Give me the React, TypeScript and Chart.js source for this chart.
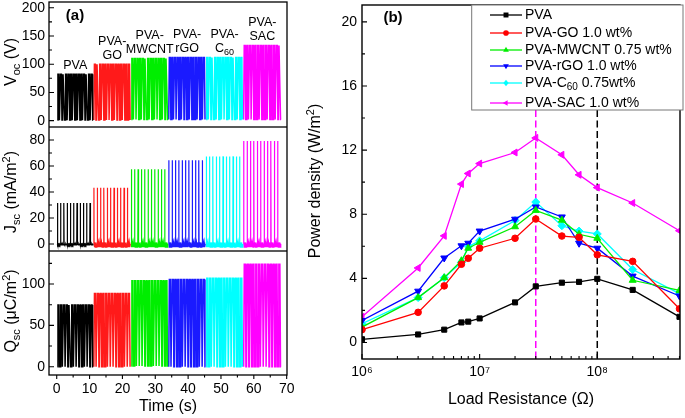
import React, { useEffect, useRef } from 'react';
import { Chart, registerables } from 'chart.js';

Chart.register(...registerables);
Chart.defaults.font.family = 'Arial, "Liberation Sans", Helvetica, sans-serif';
Chart.defaults.color = '#000';

// ---------------- Panel (a) data ----------------
const sampleLabelLines = [['PVA'], ['PVA-', 'GO'], ['PVA-', 'MWCNT'], ['PVA-', 'rGO'], ['PVA-', 'C60'], ['PVA-', 'SAC']];
const sampleColors = ['#000000', '#ff1a1a', '#00ee00', '#1a1aff', '#00ffff', '#ff00ff'];
const segmentStart = [0.2, 11.3, 22.7, 34.1, 45.5, 56.9];
const segmentEnd = [11.1, 22.5, 33.9, 45.3, 56.7, 68.3];

const vocPeaks = [82, 100, 110, 112, 112, 133];
const vocLows = [1, 1, 2, 2, 2, 2];
const vocCycles = [14, 14, 14, 14, 14, 14];

const jscPeaks = [31.5, 43.3, 57.4, 64.4, 67.4, 79.2];
const jscDips = [-0.8, -2.5, -2.5, -2.5, -2.5, -2.5];
const jscBumps = [0, 1.2, 1.2, 1.2, 1.2, 1.2];
const jscCycles = [11, 11, 11, 11, 11, 11];

const qscPeaks = [74.5, 88.5, 104, 105.5, 107, 124];
const qscLows = [0, 0, 1, 0, 0, 0];
const qscCycles = [13, 13, 13, 13, 13, 13];

const timeTicks = [0, 10, 20, 30, 40, 50, 60, 70];
const timeMinorTicks = [5, 15, 25, 35, 45, 55, 65];
const vocTicks = [0, 50, 100, 150, 200];
const vocMinorTicks = [25, 75, 125, 175];
const jscTicks = [0, 20, 40, 60, 80];
const jscMinorTicks = [10, 30, 50, 70];
const qscTicks = [0, 50, 100];
const qscMinorTicks = [25, 75, 125];

// pulse templates (phase within a cycle, level key)
const pulsePhase = [0, 0.22, 0.58, 0.8];
const pulseLevel = ['low', 'peak', 'peak', 'low'];
const spikePhase = [0, 0.03, 0.06, 0.14, 0.3, 0.45, 0.6, 0.75, 0.9];
const spikeLevel = ['zero', 'peak', 'zero', 'dip', 'bump', 'dip', 'bump', 'dip', 'zero'];

// ---------------- Panel (b) data ----------------
const resistance = [1e6, 3e6, 5e6, 7e6, 8e6, 1e7, 2e7, 3e7, 5e7, 7e7, 1e8, 2e8, 5e8];
const powerPVA = [0.2, 0.5, 0.8, 1.25, 1.3, 1.5, 2.5, 3.5, 3.73, 3.78, 3.97, 3.28, 1.6];
const powerGO = [0.8, 1.88, 3.53, 4.88, 5.25, 5.88, 6.5, 7.7, 6.64, 6.56, 5.47, 5.06, 2.1];
const powerMWCNT = [0.96, 2.8, 4.04, 5.1, 5.88, 6.25, 7.22, 8.24, 7.63, 6.75, 6.5, 3.88, 3.25];
const powerRGO = [1.37, 3.2, 5.27, 6.03, 6.19, 6.95, 7.69, 8.45, 7.83, 6.19, 5.88, 4.14, 2.9];
const powerC60 = [1.17, 2.8, 4.04, 5.0, 5.99, 6.34, 7.61, 8.76, 7.28, 6.95, 6.77, 4.55, 3.05];
const powerSAC = [1.6, 4.65, 6.65, 9.88, 10.54, 11.16, 11.85, 12.76, 11.71, 10.46, 9.66, 8.7, 6.97];
const powerSeries = [powerPVA, powerGO, powerMWCNT, powerRGO, powerC60, powerSAC];
const legendLabels = ['PVA', 'PVA-GO 1.0 wt%', 'PVA-MWCNT 0.75 wt%', 'PVA-rGO 1.0 wt%', 'PVA-C60 0.75wt%', 'PVA-SAC 1.0 wt%'];
const seriesColors = ['#000000', '#ff0000', '#00ee00', '#0000ff', '#00ffff', '#ff00ff'];
const seriesMarkers = ['rect', 'circle', 'triangle', 'triangle', 'rectRot', 'triangle'];
const seriesMarkerRotation = [0, 0, 0, 180, 0, 270];
const optimumResistance = [3e7, 1e8];
const optimumColors = ['#ff00ff', '#000000'];

const powerTicks = [0, 4, 8, 12, 16, 20];
const powerMinorTicks = [2, 6, 10, 14, 18];
const resistanceTicks = [1e6, 1e7, 1e8];
const resistanceTickLabels = ['10⁶', '10⁷', '10⁸'];
const resistanceMinorTicks = [2e6, 3e6, 4e6, 5e6, 6e6, 7e6, 8e6, 9e6, 2e7, 3e7, 4e7, 5e7, 6e7, 7e7, 8e7, 9e7, 2e8, 3e8, 4e8, 5e8];

// ---------------- helpers ----------------
type Run = { t: string; sub?: boolean; sup?: boolean };
const FONT = 'Arial, "Liberation Sans", sans-serif';

function drawRuns(ctx: CanvasRenderingContext2D, runs: Run[], x: number, y: number, size: number,
  opts: { rotate?: boolean; align?: 'center' | 'left'; bold?: boolean } = {}) {
  ctx.save();
  ctx.translate(x, y);
  if (opts.rotate) ctx.rotate(-Math.PI / 2);
  const w = opts.bold ? 'bold ' : '';
  const main = `${w}${size}px ${FONT}`;
  const small = `${w}${Math.round(size * 0.68)}px ${FONT}`;
  let total = 0;
  for (const r of runs) { ctx.font = r.sub || r.sup ? small : main; total += ctx.measureText(r.t).width; }
  let cx = opts.align === 'left' ? 0 : -total / 2;
  ctx.textBaseline = 'middle';
  ctx.textAlign = 'left';
  ctx.fillStyle = '#000';
  for (const r of runs) {
    ctx.font = r.sub || r.sup ? small : main;
    const dy = r.sub ? size * 0.32 : r.sup ? -size * 0.32 : 0;
    ctx.fillText(r.t, cx, dy);
    cx += ctx.measureText(r.t).width;
  }
  ctx.restore();
}

function toRuns(s: string): Run[] {
  const i = s.indexOf('C60');
  if (i < 0) return [{ t: s }];
  return [{ t: s.slice(0, i + 1) }, { t: '60', sub: true }, { t: s.slice(i + 3) }];
}

function tickMarks(chart: any, axis: 'x' | 'y', values: number[], len: number, inward: boolean) {
  const { ctx, chartArea: a } = chart;
  const s = chart.scales[axis];
  ctx.save();
  ctx.strokeStyle = '#000';
  ctx.lineWidth = 1.1;
  ctx.beginPath();
  for (const v of values) {
    const p = s.getPixelForValue(v);
    if (axis === 'x') {
      if (p < a.left - 0.5 || p > a.right + 0.5) continue;
      ctx.moveTo(p, a.bottom);
      ctx.lineTo(p, inward ? a.bottom - len : a.bottom + len);
    } else {
      if (p < a.top - 0.5 || p > a.bottom + 0.5) continue;
      ctx.moveTo(a.left, p);
      ctx.lineTo(inward ? a.left + len : a.left - len, p);
    }
  }
  ctx.stroke();
  ctx.restore();
}

function frame(chart: any, lw: number) {
  const { ctx, chartArea: a } = chart;
  ctx.save();
  ctx.strokeStyle = '#000';
  ctx.lineWidth = lw;
  ctx.strokeRect(a.left, a.top, a.right - a.left, a.bottom - a.top);
  ctx.restore();
}

function buildTrace(i: number, cycles: number[], phase: number[], level: string[], values: Record<string, number>) {
  const pts: { x: number; y: number }[] = [];
  const n = cycles[i];
  const P = (segmentEnd[i] - segmentStart[i]) / n;
  for (let k = 0; k < n; k++) {
    const t0 = segmentStart[i] + k * P;
    for (let j = 0; j < phase.length; j++) pts.push({ x: t0 + phase[j] * P, y: values[level[j]] });
  }
  pts.push({ x: segmentEnd[i], y: values[level[0]] });
  return pts;
}

function drawMarker(ctx: CanvasRenderingContext2D, style: string, rot: number, x: number, y: number, r: number, color: string) {
  ctx.save();
  ctx.translate(x, y);
  ctx.rotate((rot * Math.PI) / 180);
  ctx.fillStyle = color;
  ctx.beginPath();
  if (style === 'rect') { const s = r * 0.75; ctx.rect(-s, -s, 2 * s, 2 * s); }
  else if (style === 'circle') ctx.arc(0, 0, r * 0.85, 0, Math.PI * 2);
  else if (style === 'triangle') { ctx.moveTo(0, -r); ctx.lineTo(r * 0.87, r * 0.5); ctx.lineTo(-r * 0.87, r * 0.5); ctx.closePath(); }
  else { ctx.moveTo(0, -r); ctx.lineTo(r * 0.8, 0); ctx.lineTo(0, r); ctx.lineTo(-r * 0.8, 0); ctx.closePath(); }
  ctx.fill();
  ctx.restore();
}

// ---------------- panel (a) configs ----------------
const A_X_MIN = -2.35;
const A_X_MAX = 70.1;

function panelAConfig(kind: 0 | 1 | 2): any {
  const yRange = [[-11.2, 210.1], [-5.4, 90], [-10, 139.9]][kind];
  const majors = [vocTicks, jscTicks, qscTicks][kind];
  const minors = [vocMinorTicks, jscMinorTicks, qscMinorTicks][kind];
  const datasets = sampleColors.map((c, i) => {
    let data;
    if (kind === 0) data = buildTrace(i, vocCycles, pulsePhase, pulseLevel, { low: vocLows[i], peak: vocPeaks[i] });
    else if (kind === 1) data = buildTrace(i, jscCycles, spikePhase, spikeLevel, { zero: 0, peak: jscPeaks[i], dip: jscDips[i], bump: jscBumps[i] });
    else data = buildTrace(i, qscCycles, pulsePhase, pulseLevel, { low: qscLows[i], peak: qscPeaks[i] });
    return { data, borderColor: c, backgroundColor: c, borderWidth: kind === 1 ? 1.2 : 1.5, pointRadius: 0, tension: 0, fill: false };
  });
  const titles: Run[][] = [
    [{ t: 'V' }, { t: 'oc', sub: true }, { t: ' (V)' }],
    [{ t: 'J' }, { t: 'sc', sub: true }, { t: ' (mA/m' }, { t: '2', sup: true }, { t: ')' }],
    [{ t: 'Q' }, { t: 'sc', sub: true }, { t: ' (μC/m' }, { t: '2', sup: true }, { t: ')' }],
  ];
  const titleY = [62, 65, 60][kind];
  const plugin = {
    id: 'panelA' + kind,
    afterDraw(chart: any) {
      const { ctx } = chart;
      frame(chart, 1.3);
      tickMarks(chart, 'y', majors, 5, true);
      tickMarks(chart, 'y', minors, 3, true);
      if (kind === 2) {
        tickMarks(chart, 'x', timeTicks, 4, false);
        tickMarks(chart, 'x', timeMinorTicks, 2.5, false);
        drawRuns(ctx, [{ t: 'Time (s)' }], 168, 156, 16);
      }
      drawRuns(ctx, titles[kind], 12, titleY, 16, { rotate: true });
      if (kind === 0) {
        drawRuns(ctx, [{ t: '(a)' }], 75, 16, 15, { bold: true });
        const xs = chart.scales.x;
        const ys = chart.scales.y;
        sampleLabelLines.forEach((lines, i) => {
          const cx = xs.getPixelForValue((segmentStart[i] + segmentEnd[i]) / 2);
          const base = ys.getPixelForValue(vocPeaks[i]) - 9;
          lines.forEach((ln, j) => {
            const y = base - (lines.length - 1 - j) * 14;
            drawRuns(ctx, toRuns(ln), cx, y, 12.5);
          });
        });
      }
    },
  };
  return {
    type: 'line',
    data: { datasets },
    options: {
      responsive: false,
      animation: false,
      devicePixelRatio: 1,
      events: [],
      layout: { padding: { left: 0, right: 18, top: kind === 0 ? 2 : 0, bottom: 0 } },
      plugins: { legend: { display: false }, tooltip: { enabled: false } },
      scales: {
        x: {
          type: 'linear', min: A_X_MIN, max: A_X_MAX,
          grid: { display: false, drawTicks: false }, border: { display: false },
          ticks: { display: kind === 2, font: { size: 14 }, color: '#000', padding: 6, maxRotation: 0, autoSkip: false },
          afterBuildTicks: (s: any) => { s.ticks = timeTicks.map((v) => ({ value: v })); },
          afterFit: (s: any) => { s.height = kind === 2 ? 43 : 0; s.paddingLeft = 0; s.paddingRight = 0; },
        },
        y: {
          type: 'linear', min: yRange[0], max: yRange[1],
          grid: { display: false, drawTicks: false }, border: { display: false },
          ticks: { font: { size: 14 }, color: '#000', padding: 4 },
          afterBuildTicks: (s: any) => { s.ticks = majors.map((v) => ({ value: v })); },
          afterFit: (s: any) => { s.width = 49; s.paddingTop = 0; s.paddingBottom = 0; },
        },
      },
    },
    plugins: [plugin],
  };
}

// ---------------- panel (b) config ----------------
function panelBConfig(): any {
  const datasets = powerSeries.map((vals, i) => ({
    label: legendLabels[i],
    data: vals.map((y, k) => ({ x: resistance[k], y })),
    borderColor: seriesColors[i],
    backgroundColor: seriesColors[i],
    borderWidth: 1.3,
    pointStyle: seriesMarkers[i],
    pointRotation: seriesMarkerRotation[i],
    pointRadius: seriesMarkers[i] === 'circle' ? 3.3 : seriesMarkers[i] === 'rect' ? 3.6 : 4,
    pointBorderWidth: 1,
    pointBorderColor: seriesColors[i],
    pointBackgroundColor: seriesColors[i],
    tension: 0,
    fill: false,
  }));
  const plugin = {
    id: 'panelB',
    beforeDatasetsDraw(chart: any) {
      const { ctx, chartArea: a } = chart;
      const xs = chart.scales.x;
      optimumResistance.forEach((r, i) => {
        const x = xs.getPixelForValue(r);
        ctx.save();
        ctx.strokeStyle = optimumColors[i];
        ctx.lineWidth = 1.5;
        ctx.setLineDash([7, 3.5]);
        ctx.beginPath();
        ctx.moveTo(x, a.top);
        ctx.lineTo(x, a.bottom);
        ctx.stroke();
        ctx.restore();
      });
    },
    afterDraw(chart: any) {
      const { ctx } = chart;
      frame(chart, 1.4);
      tickMarks(chart, 'y', powerTicks, 5, true);
      tickMarks(chart, 'y', powerMinorTicks, 3, true);
      tickMarks(chart, 'x', resistanceTicks, 5, true);
      tickMarks(chart, 'x', resistanceMinorTicks, 3, true);
      // legend box
      const bx = 171.7, by = 5, bw = 211.3, bh = 105;
      ctx.save();
      ctx.fillStyle = '#fff';
      ctx.fillRect(bx, by, bw, bh);
      ctx.strokeStyle = '#777';
      ctx.lineWidth = 1;
      ctx.strokeRect(bx, by, bw, bh);
      ctx.restore();
      const rows = [15, 33, 50, 66, 83, 103];
      legendLabels.forEach((lab, i) => {
        const y = rows[i];
        ctx.save();
        ctx.strokeStyle = seriesColors[i];
        ctx.lineWidth = 1.3;
        ctx.beginPath();
        ctx.moveTo(190, y);
        ctx.lineTo(222, y);
        ctx.stroke();
        ctx.restore();
        drawMarker(ctx, seriesMarkers[i], seriesMarkerRotation[i], 206, y, 3.3, seriesColors[i]);
        drawRuns(ctx, toRuns(lab), 225, y, 14, { align: 'left' });
      });
      drawRuns(ctx, [{ t: '(b)' }], 93, 18, 15, { bold: true });
      drawRuns(ctx, [{ t: 'Power density (W/m' }, { t: '2', sup: true }, { t: ')' }], 16, 181, 16, { rotate: true });
      drawRuns(ctx, [{ t: 'Load Resistance (Ω)' }], 221, 400, 16);
    },
  };
  return {
    type: 'line',
    data: { datasets },
    options: {
      responsive: false,
      animation: false,
      devicePixelRatio: 1,
      events: [],
      layout: { padding: { left: 0, right: 2, top: 2, bottom: 0 } },
      plugins: { legend: { display: false }, tooltip: { enabled: false } },
      scales: {
        x: {
          type: 'logarithmic', min: 1e6, max: 5.05e8,
          grid: { display: false, drawTicks: false }, border: { display: false },
          ticks: { font: { size: 14 }, color: '#000', padding: 5, maxRotation: 0, autoSkip: false,
            callback: (_v: any, i: number) => resistanceTickLabels[i] },
          afterBuildTicks: (s: any) => { s.ticks = resistanceTicks.map((v) => ({ value: v })); },
          afterFit: (s: any) => { s.height = 59; s.paddingLeft = 0; s.paddingRight = 0; },
        },
        y: {
          type: 'linear', min: -1.03, max: 21.05,
          grid: { display: false, drawTicks: false }, border: { display: false },
          ticks: { font: { size: 14 }, color: '#000', padding: 5 },
          afterBuildTicks: (s: any) => { s.ticks = powerTicks.map((v) => ({ value: v })); },
          afterFit: (s: any) => { s.width = 62; s.paddingTop = 0; s.paddingBottom = 0; },
        },
      },
    },
    plugins: [plugin],
  };
}

function ChartBox(props: { left: number; top: number; width: number; height: number; make: () => any }) {
  const ref = useRef<HTMLCanvasElement>(null);
  useEffect(() => {
    const chart = new Chart(ref.current as HTMLCanvasElement, props.make());
    return () => chart.destroy();
  }, []);
  const { left, top, width, height } = props;
  return (
    <div style={{ position: 'absolute', left, top, width, height }}>
      <canvas ref={ref} width={width} height={height} style={{ width, height, display: 'block' }} />
    </div>
  );
}

export default function App() {
  return (
    <div style={{ position: 'absolute', left: 0, top: 0, width: 685, height: 418, background: '#fff', overflow: 'hidden' }}>
      <ChartBox left={0} top={0} width={305} height={127} make={() => panelAConfig(0)} />
      <ChartBox left={0} top={127} width={305} height={124} make={() => panelAConfig(1)} />
      <ChartBox left={0} top={251} width={305} height={167} make={() => panelAConfig(2)} />
      <ChartBox left={300} top={0} width={385} height={418} make={() => panelBConfig()} />
    </div>
  );
}
